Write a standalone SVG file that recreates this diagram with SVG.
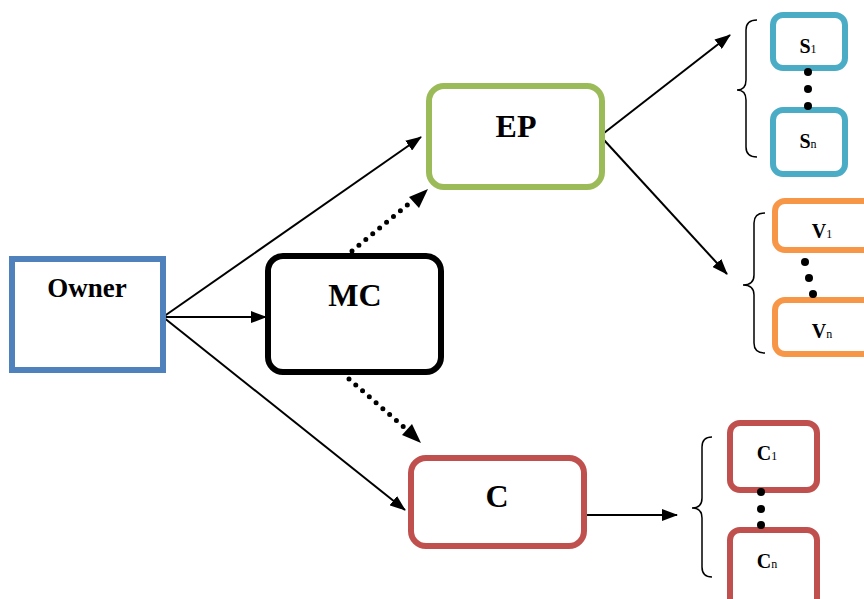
<svg xmlns="http://www.w3.org/2000/svg" width="864" height="599" viewBox="0 0 864 599">
<style>
text{font-family:"Liberation Serif","Times New Roman",serif;font-weight:bold;fill:#000;text-anchor:middle}
.big{font-size:32px}
.mid{font-size:27px}
.sm{font-size:20px}
.sub{font-size:12px;font-weight:normal}
.box{fill:#fff;stroke-width:6}
.ln{stroke:#000;stroke-width:2;fill:none}
.dot{stroke:#000;stroke-width:5;stroke-linecap:round;stroke-dasharray:0 9;fill:none}
.brace{stroke:#000;stroke-width:1.5;fill:none}
.dd{fill:#000}
</style>
<defs>
<marker id="ah" markerUnits="userSpaceOnUse" markerWidth="16" markerHeight="12" refX="15" refY="6" orient="auto">
<path d="M0,0 L16,6 L0,12 z" fill="#000"/>
</marker>
</defs>
<rect width="864" height="599" fill="#fff"/>
<g id="connectors">
<line class="ln" x1="163" y1="317" x2="421" y2="137" marker-end="url(#ah)"/>
<line class="ln" x1="163" y1="317" x2="266" y2="317" marker-end="url(#ah)"/>
<line class="ln" x1="163" y1="317" x2="405" y2="510" marker-end="url(#ah)"/>
<line class="ln" x1="604" y1="133" x2="730" y2="35" marker-end="url(#ah)"/>
<line class="ln" x1="604" y1="140" x2="727" y2="274" marker-end="url(#ah)"/>
<line class="ln" x1="587" y1="515" x2="677" y2="515" marker-end="url(#ah)"/>
<line class="dot" x1="352" y1="251" x2="412" y2="201"/>
<path d="M428,189 L419,208 L409,197 z" fill="#000"/>
<line class="dot" x1="349" y1="379" x2="405" y2="428"/>
<path d="M421,443 L402,435 L412,424 z" fill="#000"/>
</g>
<g id="owner">
<rect class="box" x="12" y="259" width="151" height="111" stroke="#4F81BD"/>
<text class="mid" x="87" y="297">Owner</text>
</g>
<g id="mc">
<rect class="box" x="268" y="256" width="173" height="116" rx="15" stroke="#000"/>
<text class="big" x="355" y="306">MC</text>
</g>
<g id="ep">
<rect class="box" x="429" y="86" width="173" height="101" rx="15" stroke="#9BBB59"/>
<text class="big" x="516" y="137">EP</text>
</g>
<g id="c">
<rect class="box" x="411" y="458" width="173" height="88" rx="15" stroke="#C0504D"/>
<text class="big" x="497" y="507">C</text>
</g>
<g id="s-group">
<path class="brace" d="M757,20 Q746,20 746,30 L746,80 Q746,90 737,90 Q746,90 746,100 L746,147 Q746,157 757,157"/>
<rect class="box" x="773" y="15" width="72" height="53" rx="10" stroke="#4BACC6"/>
<rect class="box" x="773" y="110" width="72" height="64" rx="10" stroke="#4BACC6"/>
<circle class="dd" cx="808" cy="72" r="4"/>
<circle class="dd" cx="808" cy="89" r="4"/>
<circle class="dd" cx="808" cy="106" r="4"/>
<text class="sm" x="808" y="53">S<tspan class="sub">1</tspan></text>
<text class="sm" x="808" y="148">S<tspan class="sub">n</tspan></text>
</g>
<g id="v-group">
<path class="brace" d="M765,213 Q754,213 754,223 L754,275 Q754,285 743,285 Q754,285 754,295 L754,343 Q754,353 765,353"/>
<rect class="box" x="775" y="201" width="100" height="49" rx="10" stroke="#F79646"/>
<rect class="box" x="775" y="300" width="100" height="54" rx="10" stroke="#F79646"/>
<circle class="dd" cx="805" cy="262" r="4"/>
<circle class="dd" cx="809" cy="278" r="4"/>
<circle class="dd" cx="813" cy="294" r="4"/>
<text class="sm" x="822" y="238">V<tspan class="sub">1</tspan></text>
<text class="sm" x="822" y="338">V<tspan class="sub">n</tspan></text>
</g>
<g id="c-group">
<path class="brace" d="M712,437 Q702,437 702,447 L702,498 Q702,508 692,508 Q702,508 702,518 L702,567 Q702,577 712,577"/>
<rect class="box" x="730" y="423" width="87" height="67" rx="10" stroke="#C0504D"/>
<rect class="box" x="730" y="530" width="87" height="80" rx="10" stroke="#C0504D"/>
<circle class="dd" cx="761" cy="492" r="4"/>
<circle class="dd" cx="761" cy="509" r="4"/>
<circle class="dd" cx="761" cy="525" r="4"/>
<text class="sm" x="767" y="460">C<tspan class="sub">1</tspan></text>
<text class="sm" x="767" y="568">C<tspan class="sub">n</tspan></text>
</g>
</svg>
